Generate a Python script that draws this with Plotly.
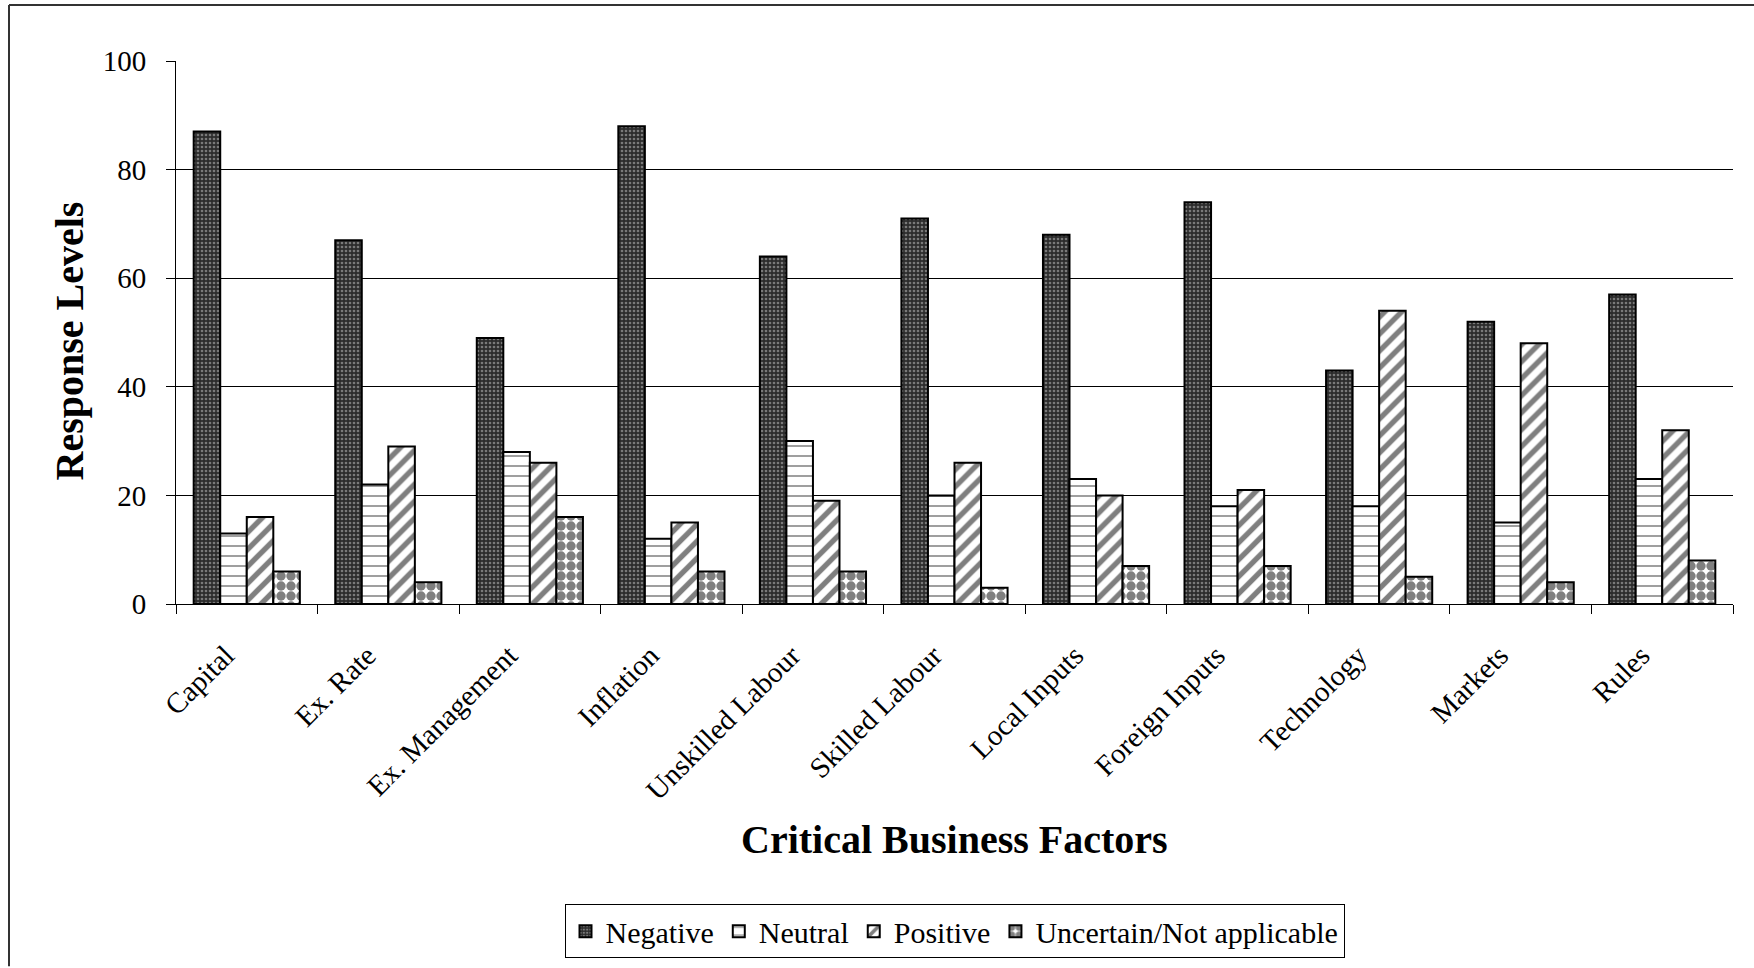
import plotly.graph_objects as go

# Survey responses per critical business factor
factors = ["Capital", "Ex. Rate", "Ex. Management", "Inflation", "Unskilled Labour",
           "Skilled Labour", "Local Inputs", "Foreign Inputs", "Technology", "Markets", "Rules"]
negative = [87, 67, 49, 88, 64, 71, 68, 74, 43, 52, 57]
neutral = [13, 22, 28, 12, 30, 20, 23, 18, 18, 15, 23]
positive = [16, 29, 26, 15, 19, 26, 20, 21, 54, 48, 32]
uncertain = [6, 4, 16, 6, 6, 3, 7, 7, 5, 4, 8]

y_ticks = [0, 20, 40, 60, 80, 100]
grid_ticks = [20, 40, 60, 80]

FONT = "Liberation Serif, Times New Roman, serif"

W, H = 1754, 968
ML, MR, MT, MB = 176, 21, 61, 363
PW, PH = W - ML - MR, H - MT - MB

series = [
    ("Negative", negative, dict(shape=".", bgcolor="#2c2c2c", fgcolor="#c8c8c8", size=4, solidity=0.35)),
    ("Neutral", neutral, dict(shape="-", bgcolor="white", fgcolor="black", size=10, solidity=0.15)),
    ("Positive", positive, dict(shape="/", bgcolor="white", fgcolor="black", size=12, solidity=0.45)),
    ("Uncertain/Not applicable", uncertain, dict(shape=".", bgcolor="white", fgcolor="black", size=10, solidity=0.7)),
]

fig = go.Figure()
for name, vals, pat in series:
    fig.add_trace(go.Bar(
        x=factors, y=vals, name=name,
        marker=dict(color=pat["bgcolor"], pattern=pat, line=dict(color="black", width=2)),
    ))

# Overlay axis carrying only the interior gridlines (no line at 100)
fig.add_trace(go.Scatter(x=[factors[0]], y=[0], yaxis="y2", mode="markers",
                         marker=dict(opacity=0), showlegend=False, hoverinfo="skip"))

fig.update_layout(
    width=W, height=H,
    margin=dict(l=ML, r=MR, t=MT, b=MB),
    paper_bgcolor="white", plot_bgcolor="white",
    barmode="group", bargap=0.25, bargroupgap=0,
    font=dict(family=FONT, color="black"),
    xaxis=dict(
        range=[-0.5, len(factors) - 0.5],
        showline=True, linecolor="black", linewidth=1,
        ticks="outside", tickson="boundaries", ticklen=9, tickcolor="black",
        tickangle=-45, tickfont=dict(size=29, family=FONT),
        ticklabelstandoff=22, ticklabelshift=-21, showgrid=False,
    ),
    yaxis=dict(
        range=[0, 100], tickvals=y_ticks, showgrid=False, zeroline=False,
        showline=True, linecolor="black", linewidth=1,
        ticks="outside", ticklen=9, tickcolor="black",
        tickfont=dict(size=29, family=FONT), ticklabelstandoff=14,
    ),
    yaxis2=dict(
        overlaying="y", matches="y", range=[0, 100], tickvals=grid_ticks,
        showgrid=True, gridcolor="black", gridwidth=1, showticklabels=False,
        ticks="", zeroline=False, showline=False,
    ),
    legend=dict(
        orientation="h", x=0.5, xanchor="center", y=-0.55, yanchor="top",
        bordercolor="black", borderwidth=1, font=dict(size=30, family=FONT),
        itemwidth=30, traceorder="normal",
    ),
    annotations=[
        dict(text="<b>Response Levels</b>", x=(69 - ML) / PW, y=(H - MB - 342) / PH,
             xref="paper", yref="paper",
             textangle=-90, showarrow=False, font=dict(size=40, family=FONT),
             xanchor="center", yanchor="middle"),
        dict(text="<b>Critical Business Factors</b>", x=(954 - ML) / PW, y=(H - MB - 841) / PH,
             xref="paper", yref="paper", showarrow=False, font=dict(size=40, family=FONT),
             xanchor="center", yanchor="middle"),
    ],
    shapes=[
        dict(type="line", xref="paper", yref="paper", x0=(9 - ML) / PW, x1=(W - ML) / PW,
             y0=(H - MB - 5) / PH, y1=(H - MB - 5) / PH, line=dict(color="#333333", width=2)),
        dict(type="line", xref="paper", yref="paper", x0=(9 - ML) / PW, x1=(9 - ML) / PW,
             y0=(H - MB - 5) / PH, y1=(H - MB - H) / PH, line=dict(color="#333333", width=2)),
    ],
)

fig.write_html("out.html")
